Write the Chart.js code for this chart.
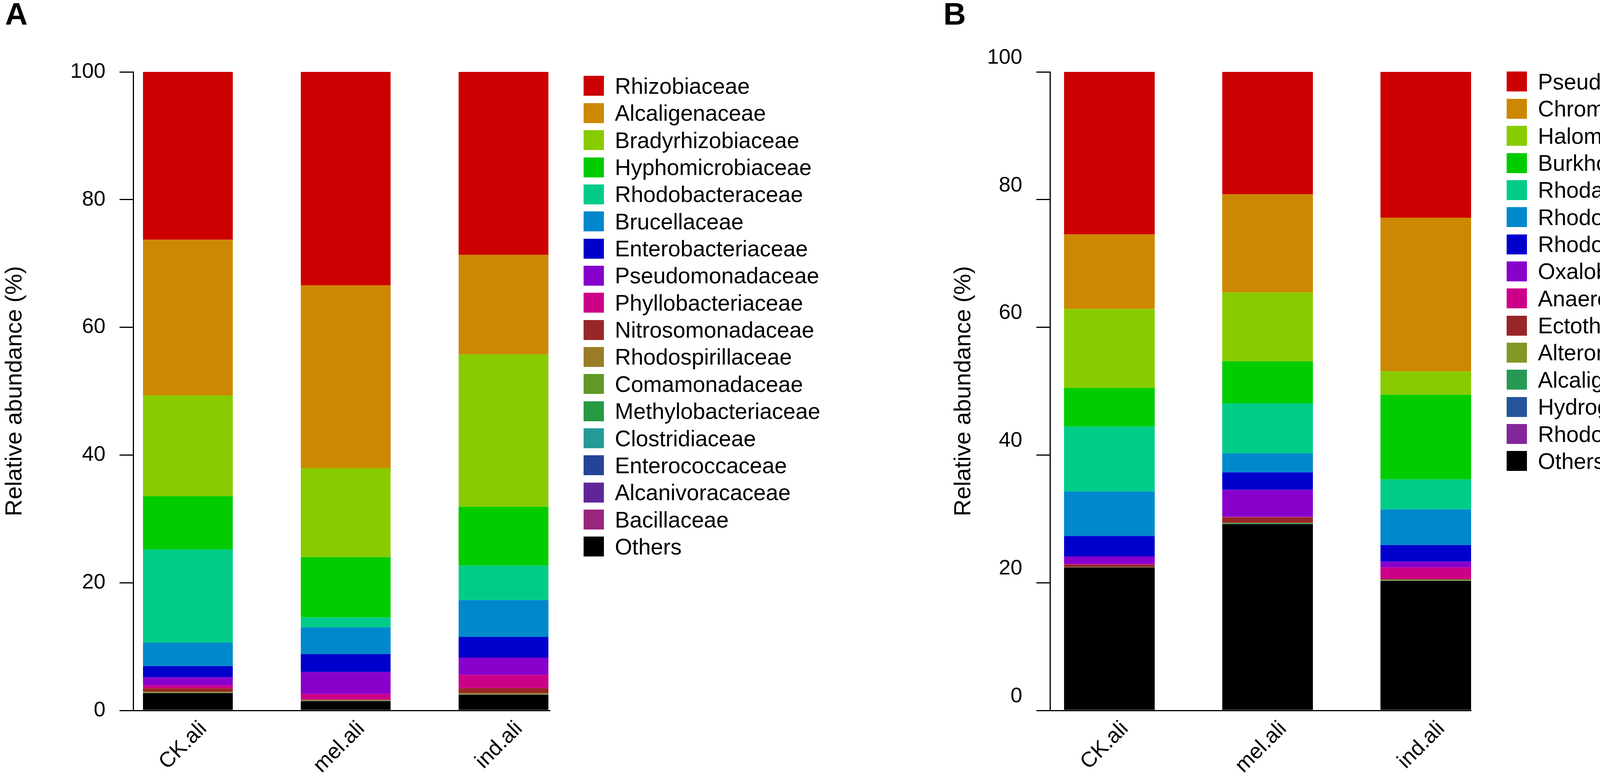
<!DOCTYPE html>
<html>
<head>
<meta charset="utf-8">
<script src="https://cdn.jsdelivr.net/npm/chart.js@4.4.1/dist/chart.umd.min.js"></script>
<style>
html,body{margin:0;padding:0;background:#fff;}
#page{position:relative;width:4550px;height:1996px;overflow:hidden;background:#fff;font-family:"Liberation Sans",Arial,sans-serif;}
canvas{position:absolute;top:0;}
.panel-label{position:absolute;font-weight:bold;font-size:80px;line-height:1;color:#000;}
.leg{position:absolute;display:flex;align-items:center;font-size:57px;color:#000;white-space:nowrap;}
.leg .box{display:inline-block;width:52px;height:51px;flex:none;}
</style>
</head>
<body>
<div id="page">
  <canvas id="chartA" width="2275" height="1996" style="left:0px"></canvas>
  <canvas id="chartB" width="2275" height="1996" style="left:2275px"></canvas>
  <div class="panel-label" style="left:13px;top:-4px">A</div>
  <div class="panel-label" style="left:2415px;top:-4px">B</div>
</div>
<script>
// ---------- data ----------
const categories = ["CK.ali", "mel.ali", "ind.ali"];
const yTicks = [0, 20, 40, 60, 80, 100];
const yTitle = "Relative abundance (%)";

// Panel A (legend order, top of stack first)
const familiesA = ["Rhizobiaceae","Alcaligenaceae","Bradyrhizobiaceae","Hyphomicrobiaceae","Rhodobacteraceae","Brucellaceae","Enterobacteriaceae","Pseudomonadaceae","Phyllobacteriaceae","Nitrosomonadaceae","Rhodospirillaceae","Comamonadaceae","Methylobacteriaceae","Clostridiaceae","Enterococcaceae","Alcanivoracaceae","Bacillaceae","Others"];
const colorsA = ["#CC0000","#CC8800","#88CC00","#00CC00","#00CC88","#0088CC","#0000CC","#8800CC","#CC0088","#992626","#997C26","#609926","#269943","#269999","#264399","#602699","#99267C","#000000"];
const ckA  = [26.28, 24.40, 15.77, 8.33, 14.58, 3.70, 1.75, 1.26, 0.46, 0.53, 0.10, 0.08, 0.01, 0.01, 0.01, 0.01, 0.01, 2.71];
const melA = [33.42, 28.63, 13.95, 9.42, 1.56, 4.19, 2.81, 3.44, 0.85, 0.11, 0.09, 0.03, 0.01, 0.01, 0.01, 0.01, 0.01, 1.45];
const indA = [28.66, 15.57, 23.87, 9.22, 5.39, 5.79, 3.24, 2.71, 2.05, 0.79, 0.13, 0.08, 0.01, 0.01, 0.01, 0.01, 0.01, 2.45];

// Panel B
const familiesB = ["Pseudomonadaceae","Chromobacteriaceae","Halomonadaceae","Burkholderiaceae","Rhodanobacteraceae","Rhodospirillaceae","Rhodobacteraceae","Oxalobacteraceae","Anaerolineaceae","Ectothiorhodospiraceae","Alteromonadaceae","Alcaligenaceae","Hydrogenophilaceae","Rhodocyclaceae","Others"];
const colorsB = ["#CC0000","#CC8800","#88CC00","#00CC00","#00CC88","#0088CC","#0000CC","#8800CC","#CC0088","#992626","#829926","#269954","#265499","#822699","#000000"];
const ckB  = [25.44, 11.67, 12.39, 6.06, 10.15, 6.98, 3.20, 1.21, 0.05, 0.42, 0.02, 0.01, 0.01, 0.01, 22.38];
const melB = [19.17, 15.36, 10.78, 6.59, 7.82, 2.99, 2.75, 4.23, 0.05, 0.87, 0.07, 0.12, 0.01, 0.01, 29.18];
const indB = [22.82, 24.08, 3.66, 13.25, 4.72, 5.57, 2.60, 0.92, 1.75, 0.15, 0.10, 0.05, 0.03, 0.02, 20.28];

// ---------- drawing ----------
const FAMILY = '"Liberation Sans", Arial, Helvetica, sans-serif';

function makePanel(canvasId, names, colors, samples, o) {
  const datasets = names.map((n, k) => ({
    label: n,
    backgroundColor: colors[k],
    borderWidth: 0,
    data: samples.map((vals, i) => ({ x: i + 1, y: vals[k] }))
  })).reverse(); // "Others" at the bottom of the stack

  new Chart(document.getElementById(canvasId), {
    type: 'bar',
    data: { datasets },
    options: {
      responsive: false,
      animation: false,
      devicePixelRatio: 1,
      layout: { padding: { left: 0, top: o.top, right: o.right, bottom: 0 } },
      plugins: { legend: { display: false }, tooltip: { enabled: false } },
      datasets: { bar: { barPercentage: o.barPct, categoryPercentage: 1 } },
      scales: {
        x: {
          type: 'linear', stacked: true, offset: false,
          min: o.xmin, max: o.xmax,
          afterBuildTicks: s => { s.ticks = categories.map((c, i) => ({ value: i + 1 })); },
          afterFit: s => { s.height = o.xh; },
          ticks: {
            callback: v => categories[v - 1],
            minRotation: 45, maxRotation: 45, autoSkip: false,
            padding: 15, labelOffset: 40, color: '#000',
            font: { family: FAMILY, size: 55 }
          },
          grid: { display: false, drawTicks: false, offset: false },
          border: { display: true, color: '#000', width: 3 }
        },
        y: {
          stacked: true, min: 0, max: 100,
          afterBuildTicks: s => { s.ticks = yTicks.map(v => ({ value: v })); },
          afterFit: s => { s.width = o.axisX; },
          ticks: {
            padding: 36, labelOffset: o.yLabelOffset, color: '#000',
            font: { family: FAMILY, size: 54 }
          },
          grid: { display: true, drawOnChartArea: false, drawTicks: true, tickLength: 35, color: '#000', lineWidth: 3 },
          border: { display: true, color: '#000', width: 3 },
          title: {
            display: true, text: yTitle, color: '#000',
            font: { family: FAMILY, size: 60 },
            padding: { top: o.titlePad, bottom: 0 }
          }
        }
      }
    }
  });
}

function makeLegend(names, colors, o) {
  const page = document.getElementById('page');
  names.forEach((n, i) => {
    const row = document.createElement('div');
    row.className = 'leg';
    const c = o.firstCenter + i * o.pitch;
    row.style.left = o.boxLeft + 'px';
    row.style.top = (c - o.pitch / 2) + 'px';
    row.style.height = o.pitch + 'px';
    const box = document.createElement('span');
    box.className = 'box';
    box.style.background = colors[i];
    const txt = document.createElement('span');
    txt.textContent = n;
    txt.style.marginLeft = (o.textLeft - o.boxLeft - 52) + 'px';
    row.appendChild(box);
    row.appendChild(txt);
    page.appendChild(row);
  });
}

makePanel('chartA', familiesA, colorsA, [ckA, melA, indA], {
  top: 184, right: 2275 - 1408, xh: 178, axisX: 341,
  xmin: 0.6535, xmax: 3.2946, barPct: 0.569,
  titlePad: 2, yLabelOffset: 0
});
makePanel('chartB', familiesB, colorsB, [ckB, melB, indB], {
  top: 184, right: 2275 - 1491, xh: 178, axisX: 413,
  xmin: 0.6247, xmax: 3.2864, barPct: 0.573,
  titlePad: 156, yLabelOffset: -36
});

makeLegend(familiesA, colorsA, { boxLeft: 1494, textLeft: 1574, firstCenter: 220, pitch: 69.35 });
makeLegend(familiesB, colorsB, { boxLeft: 3857, textLeft: 3937, firstCenter: 209, pitch: 69.35 });
</script>
</body>
</html>
